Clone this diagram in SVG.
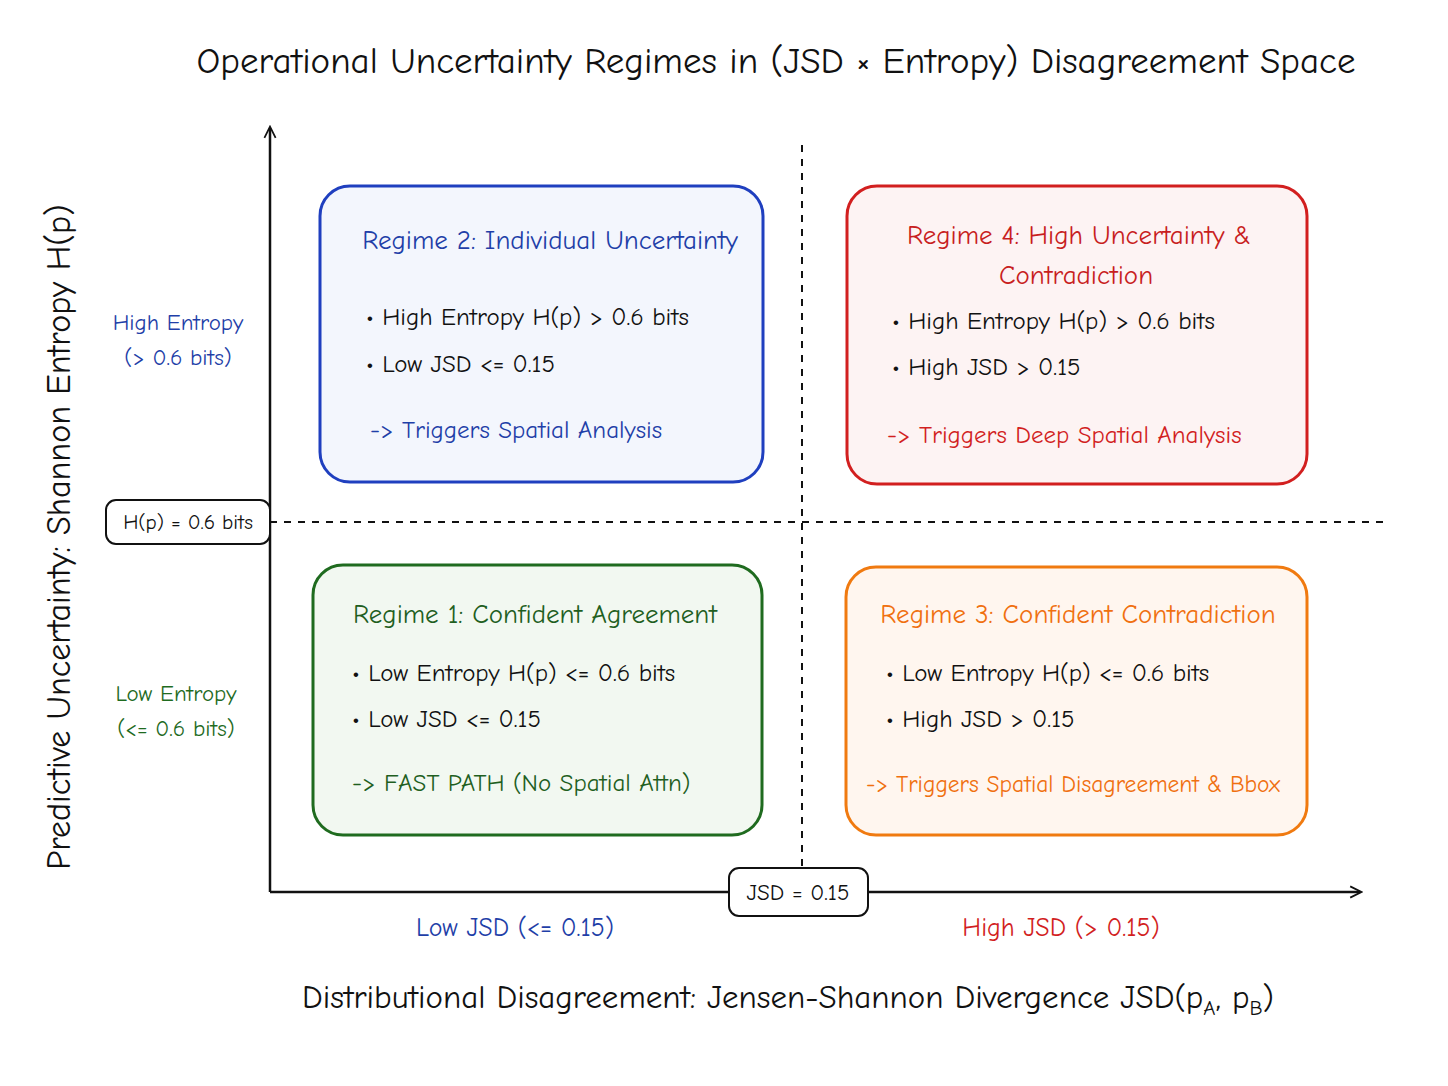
<svg xmlns="http://www.w3.org/2000/svg" width="1448" height="1086" viewBox="0 0 1448 1086">
<defs>
<style>
text{font-family:"Comic Neue","Open Sans","Liberation Sans",sans-serif;}
.t{font-size:27px;fill:#111}
.b{font-size:25px;fill:#111}
.box{stroke-width:3}
.ax{stroke:#111;stroke-width:2.5;fill:none}
.dash{stroke:#111;stroke-width:2;stroke-dasharray:7 7;fill:none}
</style>
<marker id="ah" viewBox="0 0 20 20" refX="16" refY="10" markerWidth="14" markerHeight="14" markerUnits="userSpaceOnUse" orient="auto"><path d="M2 2 L18 10 L2 18" fill="none" stroke="#111" stroke-width="2.5"/></marker>
</defs>
<rect width="1448" height="1086" fill="#fff"/>
<text x="776" y="73" text-anchor="middle" font-size="37" fill="#111">Operational Uncertainty Regimes in (JSD × Entropy) Disagreement Space</text>
<g id="connectors">
<line class="ax" x1="270" y1="892" x2="270" y2="128" marker-end="url(#ah)"/>
<line class="ax" x1="270" y1="892" x2="1360" y2="892" marker-end="url(#ah)"/>
<line class="dash" x1="802" y1="145" x2="802" y2="868"/>
<line class="dash" x1="270" y1="522" x2="1385" y2="522"/>
</g>
<text transform="translate(70 537) rotate(-90)" text-anchor="middle" font-size="34" fill="#111">Predictive Uncertainty: Shannon Entropy H(p)</text>
<text x="788" y="1008" text-anchor="middle" font-size="33" fill="#111">Distributional Disagreement: Jensen-Shannon Divergence JSD(p<tspan font-size="21" dy="7">A</tspan><tspan dy="-7">, p</tspan><tspan font-size="21" dy="7">B</tspan><tspan dy="-7">)</tspan></text>
<g id="hlabel"><rect x="106" y="500" width="164" height="44" rx="10" fill="#fff" stroke="#111" stroke-width="2"/><text x="188" y="529" text-anchor="middle" font-size="21" fill="#111">H(p) = 0.6 bits</text></g>
<g id="jlabel"><rect x="729" y="868" width="139" height="48" rx="10" fill="#fff" stroke="#111" stroke-width="2"/><text x="798" y="900" text-anchor="middle" font-size="23" fill="#111">JSD = 0.15</text></g>
<g id="ylabels" font-size="23" text-anchor="middle">
<text x="178" y="330" fill="#1f3fa8">High Entropy</text><text x="178" y="365" fill="#1f3fa8">(&gt; 0.6 bits)</text>
<text x="176" y="701" fill="#1f6b1f">Low Entropy</text><text x="176" y="736" fill="#1f6b1f">(&lt;= 0.6 bits)</text>
</g>
<g id="xlabels" font-size="26" text-anchor="middle">
<text x="515" y="936" fill="#1f3fa8">Low JSD (&lt;= 0.15)</text>
<text x="1061" y="936" fill="#d21f1f">High JSD (&gt; 0.15)</text>
</g>
<g id="regime2"><rect class="box" x="320" y="186" width="443" height="296" rx="30" fill="#f3f6fd" stroke="#1f3fbf"/>
<text x="550" y="249" text-anchor="middle" class="t" style="fill:#1f3fa8">Regime 2: Individual Uncertainty</text>
<text x="366" y="325" class="b">• High Entropy H(p) &gt; 0.6 bits</text>
<text x="366" y="372" class="b">• Low JSD &lt;= 0.15</text>
<text x="370" y="438" class="b" style="fill:#1f3fa8">-&gt; Triggers Spatial Analysis</text></g>
<g id="regime4"><rect class="box" x="847" y="186" width="460" height="298" rx="30" fill="#fdf3f3" stroke="#d21f1f"/>
<text x="1079" y="244" text-anchor="middle" class="t" style="fill:#c81e1e">Regime 4: High Uncertainty &amp;</text>
<text x="1076" y="284" text-anchor="middle" class="t" style="fill:#c81e1e">Contradiction</text>
<text x="892" y="329" class="b">• High Entropy H(p) &gt; 0.6 bits</text>
<text x="892" y="375" class="b">• High JSD &gt; 0.15</text>
<text x="887" y="443" class="b" style="fill:#d21f1f">-&gt; Triggers Deep Spatial Analysis</text></g>
<g id="regime1"><rect class="box" x="313" y="565" width="449" height="270" rx="30" fill="#f2f8f1" stroke="#1f6b1f"/>
<text x="535" y="623" text-anchor="middle" class="t" style="fill:#1f5f1f">Regime 1: Confident Agreement</text>
<text x="352" y="681" class="b">• Low Entropy H(p) &lt;= 0.6 bits</text>
<text x="352" y="727" class="b">• Low JSD &lt;= 0.15</text>
<text x="352" y="791" class="b" style="fill:#1f5f1f">-&gt; FAST PATH (No Spatial Attn)</text></g>
<g id="regime3"><rect class="box" x="846" y="567" width="461" height="268" rx="30" fill="#fff6ef" stroke="#f07a10"/>
<text x="1078" y="623" text-anchor="middle" class="t" style="fill:#f07010">Regime 3: Confident Contradiction</text>
<text x="886" y="681" class="b">• Low Entropy H(p) &lt;= 0.6 bits</text>
<text x="886" y="727" class="b">• High JSD &gt; 0.15</text>
<text x="866" y="792" style="fill:#f07010;font-size:23.5px">-&gt; Triggers Spatial Disagreement &amp; Bbox</text></g>
</svg>
